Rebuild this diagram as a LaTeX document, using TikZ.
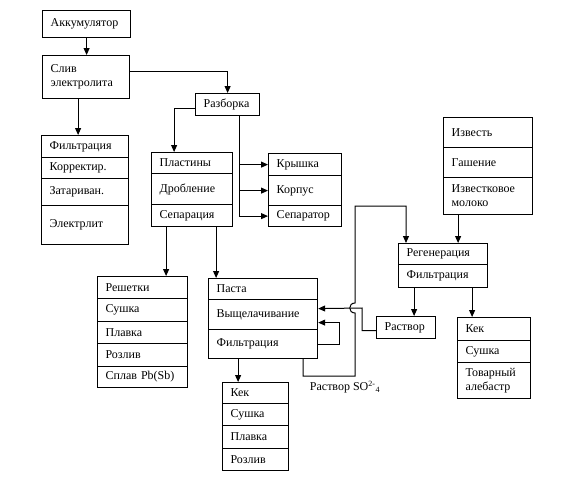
\documentclass[tikz,border=0pt]{standalone}
\usepackage{fontspec}
\setmainfont{Liberation Serif}
\usepackage{tikz}
\usetikzlibrary{arrows.meta,calc}

\begin{document}
\begin{tikzpicture}[x=1pt,y=-1pt,
  cell/.style={draw,line width=1.2pt,anchor=north west,inner xsep=8pt,inner ysep=1pt,align=left,font=\fontsize{12}{14}\selectfont},
  arr/.style={-{Triangle[length=7pt,width=6pt]},line width=1pt},
  ln/.style={line width=1pt}]
  \useasboundingbox (0,0) rectangle (576,498);
  \node[cell,text width=72pt,minimum height=27pt] (akk) at (42,10) {Аккумулятор};
  \node[cell,text width=71pt,minimum height=43pt] (sliv) at (42,55) {Слив\\электролита};
  \node[cell,text width=48pt,minimum height=22pt] (razb) at (195,93) {Разборка};
  \node[cell,text width=65pt,minimum height=21pt] (plast) at (151,152) {Пластины};
  \node[cell,text width=65pt,minimum height=31pt] (drob) at (151,173) {Дробление};
  \node[cell,text width=65pt,minimum height=22pt] (sep) at (151,204) {Сепарация};
  \node[cell,text width=57pt,minimum height=22pt] (kr) at (268,153) {Крышка};
  \node[cell,text width=57pt,minimum height=30pt] (korp) at (268,175) {Корпус};
  \node[cell,text width=57pt,minimum height=21pt] (sepr) at (268,205) {Сепаратор};
  \node[cell,text width=71pt,minimum height=22pt] (f1) at (41,135) {Фильтрация};
  \node[cell,text width=71pt,minimum height=21pt] (f2) at (41,157) {Корректир.};
  \node[cell,text width=71pt,minimum height=27pt] (f3) at (41,178) {Затариван.};
  \node[cell,text width=71pt,minimum height=39pt] (f4) at (41,205) {Электрлит};
  \node[cell,text width=73pt,minimum height=30pt] (iz1) at (443,117) {Известь};
  \node[cell,text width=73pt,minimum height=30pt] (iz2) at (443,147) {Гашение};
  \node[cell,text width=73pt,minimum height=37pt] (iz3) at (443,177) {Известковое\\молоко};
  \node[cell,text width=73pt,minimum height=21pt] (rg1) at (398,243) {Регенерация};
  \node[cell,text width=73pt,minimum height=23pt] (rg2) at (398,264) {Фильтрация};
  \node[cell,text width=74pt,minimum height=22pt] (r1) at (97,276) {Решетки};
  \node[cell,text width=74pt,minimum height=23pt] (r2) at (97,298) {Сушка};
  \node[cell,text width=74pt,minimum height=22pt] (r3) at (97,321) {Плавка};
  \node[cell,text width=74pt,minimum height=23pt] (r4) at (97,343) {Розлив};
  \node[cell,text width=74pt,minimum height=21pt] (r5) at (97,366) {Сплав Pb(Sb)};
  \node[cell,text width=93pt,minimum height=21pt] (p1) at (208,278) {Паста};
  \node[cell,text width=93pt,minimum height=30pt] (p2) at (208,299) {Выщелачивание};
  \node[cell,text width=93pt,minimum height=29pt] (p3) at (208,329) {Фильтрация};
  \node[cell,text width=43pt,minimum height=22pt] (rs) at (376,316) {Раствор};
  \node[cell,text width=57pt,minimum height=23pt] (k1) at (457,317) {Кек};
  \node[cell,text width=57pt,minimum height=22pt] (k2) at (457,340) {Сушка};
  \node[cell,text width=57pt,minimum height=36pt] (k3) at (457,362) {Товарный\\алебастр};
  \node[cell,text width=50pt,minimum height=21pt] (b1) at (222,382) {Кек};
  \node[cell,text width=50pt,minimum height=22pt] (b2) at (222,403) {Сушка};
  \node[cell,text width=50pt,minimum height=23pt] (b3) at (222,425) {Плавка};
  \node[cell,text width=50pt,minimum height=22pt] (b4) at (222,448) {Розлив};
  \node[font=\fontsize{12}{14}\selectfont] (so4) at (345,387) {Раствор SO\textsuperscript{2-}\textsubscript{4}};
  \coordinate (hop) at (355,308);
  \coordinate (regin) at (406,206);
  \coordinate (rz) at ([xshift=12pt]razb.south);
  \draw[arr] (akk.south) -- (akk.south |- sliv.north);
  \draw[arr] ([yshift=6pt]sliv.east) -| (razb.north);
  \draw[arr] ([xshift=-8pt]sliv.south) -- ([xshift=-8pt]sliv.south |- f1.north);
  \draw[arr] ([yshift=-4pt]razb.west) -| ([xshift=-18pt]plast.north);
  \draw[arr] (rz) |- (sepr.west);
  \draw[arr] (rz |- kr.west) -- (kr.west);
  \draw[arr] (rz |- korp.west) -- (korp.west);
  \draw[arr] ([xshift=-26pt]sep.south) -- ([xshift=-26pt]sep.south |- r1.north);
  \draw[arr] ([xshift=24pt]sep.south) -- ([xshift=24pt]sep.south |- p1.north);
  \draw[arr] ([xshift=-30pt]iz3.south) -- ([xshift=-30pt]iz3.south |- rg1.north);
  \draw[arr] ([xshift=-29pt]rg2.south) -- ([xshift=-29pt]rg2.south |- rs.north);
  \draw[arr] ([xshift=29pt]rg2.south) -- ([xshift=29pt]rg2.south |- k1.north);
  \draw[arr] ([xshift=-25pt]p3.south) -- ([xshift=-25pt]p3.south |- b1.north);
  \draw[arr] ([xshift=40pt]p3.south) -- ++(0,17) -| ([yshift=-5pt]hop)
    .. controls +(-7,0) and +(-7,0) .. ([yshift=5pt]hop) |- (regin) -- (regin |- rg1.north);
  \draw[arr] ([yshift=-3pt]rs.west) -| ([xshift=7pt]hop) -- ([yshift=6pt]p2.east);
  \draw[arr] (p3.east) -- ++(21,0) |- ([yshift=-8pt]p2.east);
\end{tikzpicture}
\end{document}
